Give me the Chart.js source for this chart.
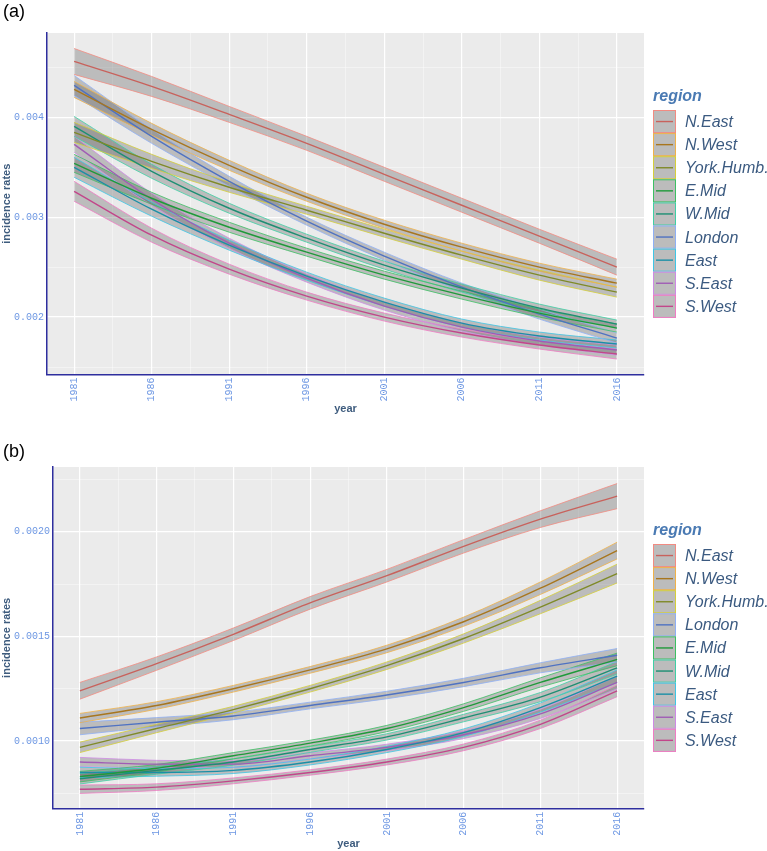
<!DOCTYPE html>
<html>
<head>
<meta charset="utf-8">
<script src="https://cdn.jsdelivr.net/npm/chart.js@4.4.1/dist/chart.umd.min.js"></script>
<style>
  body { margin: 0; background: #fff; width: 767px; height: 851px; position: relative; overflow: hidden; }
  .panel { position: absolute; left: 0; }
  .tag { position: absolute; left: 3px; font: 18px "Liberation Sans", Arial, sans-serif; color: #000; line-height: 18px; }
</style>
</head>
<body>
<div class="panel" style="top:0"><canvas id="chartA" width="767" height="420"></canvas></div>
<div class="panel" style="top:420px"><canvas id="chartB" width="767" height="431"></canvas></div>
<div class="tag" style="top:2px">(a)</div>
<div class="tag" style="top:442px">(b)</div>
<script>
// years of the fitted curves and the labelled ticks
const years = [1981, 1986, 1991, 1996, 2001, 2006, 2011, 2016];
const yearLabels = ['1981', '1986', '1991', '1996', '2001', '2006', '2011', '2016'];

// legend order in each panel
const regionsA = ['N.East', 'N.West', 'York.Humb.', 'E.Mid', 'W.Mid', 'London', 'East', 'S.East', 'S.West'];
const regionsB = ['N.East', 'N.West', 'York.Humb.', 'London', 'E.Mid', 'W.Mid', 'East', 'S.East', 'S.West'];

// panel (a): fitted incidence rates
const aNEast  = [0.00456, 0.00431, 0.00403, 0.00374, 0.00343, 0.00312, 0.00281, 0.00250];
const aNWest  = [0.00428, 0.00388, 0.00352, 0.00320, 0.00293, 0.00270, 0.00250, 0.00234];
const aYork   = [0.00385, 0.00356, 0.00330, 0.00307, 0.00284, 0.00262, 0.00242, 0.00225];
const aEMid   = [0.00354, 0.00319, 0.00290, 0.00265, 0.00242, 0.00222, 0.00204, 0.00189];
const aWMid   = [0.00391, 0.00346, 0.00309, 0.00279, 0.00252, 0.00229, 0.00209, 0.00193];
const aLondon = [0.00432, 0.00381, 0.00336, 0.00296, 0.00261, 0.00230, 0.00203, 0.00179];
const aEast   = [0.00350, 0.00308, 0.00272, 0.00241, 0.00215, 0.00194, 0.00181, 0.00173];
const aSEast  = [0.00373, 0.00318, 0.00274, 0.00239, 0.00211, 0.00190, 0.00176, 0.00167];
const aSWest  = [0.00326, 0.00282, 0.00248, 0.00221, 0.00200, 0.00184, 0.00172, 0.00163];

// panel (a): half width of the confidence bands
const aNEastSe  = [0.00013, 0.00010, 0.00008, 0.00007, 0.00007, 0.00007, 0.00007, 0.00008];
const aNWestSe  = [0.00008, 0.00006, 0.00005, 0.00004, 0.00004, 0.00004, 0.00004, 0.00004];
const aYorkSe   = [0.00010, 0.00007, 0.00005, 0.00004, 0.00004, 0.00004, 0.00005, 0.00005];
const aEMidSe   = [0.00009, 0.00006, 0.00005, 0.00004, 0.00004, 0.00004, 0.00004, 0.00004];
const aWMidSe   = [0.00010, 0.00007, 0.00005, 0.00004, 0.00004, 0.00004, 0.00004, 0.00004];
const aLondonSe = [0.00010, 0.00007, 0.00005, 0.00004, 0.00004, 0.00004, 0.00005, 0.00005];
const aEastSe   = [0.00010, 0.00007, 0.00005, 0.00004, 0.00004, 0.00004, 0.00004, 0.00004];
const aSEastSe  = [0.00008, 0.00006, 0.00005, 0.00004, 0.00004, 0.00004, 0.00004, 0.00005];
const aSWestSe  = [0.00010, 0.00007, 0.00005, 0.00004, 0.00004, 0.00004, 0.00004, 0.00005];

// panel (b): fitted incidence rates
const bNEast  = [0.00124, 0.00137, 0.00151, 0.00166, 0.00179, 0.00193, 0.00206, 0.00217];
const bNWest  = [0.00111, 0.00117, 0.00125, 0.00134, 0.00144, 0.00157, 0.00173, 0.00191];
const bYork   = [0.00097, 0.00106, 0.00115, 0.00125, 0.00136, 0.00149, 0.00164, 0.00180];
const bLondon = [0.00106, 0.00109, 0.00112, 0.00117, 0.00122, 0.00128, 0.00135, 0.00141];
const bEMid   = [0.00083, 0.00087, 0.00093, 0.00099, 0.00106, 0.00116, 0.00128, 0.00139];
const bWMid   = [0.00082, 0.00086, 0.00090, 0.00096, 0.00102, 0.00111, 0.00121, 0.00135];
const bEast   = [0.00085, 0.00085, 0.00086, 0.00090, 0.00096, 0.00104, 0.00116, 0.00131];
const bSEast  = [0.00090, 0.00089, 0.00089, 0.00093, 0.00097, 0.00103, 0.00113, 0.00128];
const bSWest  = [0.00077, 0.00078, 0.00081, 0.00085, 0.00090, 0.00097, 0.00108, 0.00124];

// panel (b): half width of the confidence bands
const bNEastSe  = [0.000040, 0.000032, 0.000030, 0.000030, 0.000030, 0.000032, 0.000040, 0.000060];
const bNWestSe  = [0.000022, 0.000018, 0.000016, 0.000016, 0.000018, 0.000022, 0.000030, 0.000040];
const bYorkSe   = [0.000025, 0.000020, 0.000016, 0.000016, 0.000018, 0.000022, 0.000032, 0.000045];
const bLondonSe = [0.000030, 0.000022, 0.000018, 0.000016, 0.000018, 0.000020, 0.000024, 0.000032];
const bEMidSe   = [0.000025, 0.000018, 0.000015, 0.000014, 0.000015, 0.000018, 0.000022, 0.000030];
const bWMidSe   = [0.000025, 0.000018, 0.000015, 0.000014, 0.000015, 0.000018, 0.000022, 0.000030];
const bEastSe   = [0.000025, 0.000018, 0.000015, 0.000014, 0.000015, 0.000018, 0.000022, 0.000030];
const bSEastSe  = [0.000022, 0.000018, 0.000015, 0.000014, 0.000015, 0.000018, 0.000022, 0.000030];
const bSWestSe  = [0.000020, 0.000016, 0.000014, 0.000013, 0.000014, 0.000016, 0.000020, 0.000028];

const fitA = {'N.East': aNEast, 'N.West': aNWest, 'York.Humb.': aYork, 'E.Mid': aEMid, 'W.Mid': aWMid,
              'London': aLondon, 'East': aEast, 'S.East': aSEast, 'S.West': aSWest};
const seA = {'N.East': aNEastSe, 'N.West': aNWestSe, 'York.Humb.': aYorkSe, 'E.Mid': aEMidSe, 'W.Mid': aWMidSe,
             'London': aLondonSe, 'East': aEastSe, 'S.East': aSEastSe, 'S.West': aSWestSe};
const fitB = {'N.East': bNEast, 'N.West': bNWest, 'York.Humb.': bYork, 'London': bLondon, 'E.Mid': bEMid,
              'W.Mid': bWMid, 'East': bEast, 'S.East': bSEast, 'S.West': bSWest};
const seB = {'N.East': bNEastSe, 'N.West': bNWestSe, 'York.Humb.': bYorkSe, 'London': bLondonSe, 'E.Mid': bEMidSe,
             'W.Mid': bWMidSe, 'East': bEastSe, 'S.East': bSEastSe, 'S.West': bSWestSe};

// colours: darker line, lighter band outline
const lineColor = {
    'N.East': '#c8625c', 'N.West': '#a8761e', 'York.Humb.': '#7f8a28', 'E.Mid': '#1f9a3a', 'W.Mid': '#1d8f73',
    'London': '#4f72c2', 'East': '#1a8fa6', 'S.East': '#a05cb5', 'S.West': '#c2468a'
};
const edgeColor = {
    'N.East': '#f28b82', 'N.West': '#f0b24a', 'York.Humb.': '#d6cf3a', 'E.Mid': '#3cc063', 'W.Mid': '#3fd0a5',
    'London': '#8fb0f5', 'East': '#3fc6e6', 'S.East': '#cf8ae6', 'S.West': '#f07cc4'
};
const bandFill = 'rgba(80,80,80,0.3)';
const panelGrey = '#ebebeb';
const axisBlue = '#2e2e9e';
const tickBlue = '#6d97e3';
const titleBlue = '#3e5c7e';

function buildDatasets(regions, fit, se) {
    const lines = [];
    const bands = [];
    regions.forEach(r => {
        const mid = fit[r];
        const half = se[r];
        lines.push({
            label: r,
            data: years.map((x, i) => ({x: x, y: mid[i]})),
            borderColor: lineColor[r],
            borderWidth: 1.4,
            fill: false
        });
        bands.push({
            label: r + ' upper',
            data: years.map((x, i) => ({x: x, y: mid[i] + half[i]})),
            borderColor: edgeColor[r],
            borderWidth: 0.8,
            backgroundColor: bandFill,
            fill: '+1'
        });
        bands.push({
            label: r + ' lower',
            data: years.map((x, i) => ({x: x, y: mid[i] - half[i]})),
            borderColor: edgeColor[r],
            borderWidth: 0.8,
            fill: false
        });
    });
    return lines.concat(bands);
}

// grey panel behind the grid
const panelBg = {
    id: 'panelBg',
    beforeDraw(chart) {
        const {ctx, chartArea: a} = chart;
        ctx.save();
        ctx.fillStyle = panelGrey;
        ctx.fillRect(a.left, a.top, a.right - a.left, a.bottom - a.top);
        ctx.restore();
    }
};

// ggplot style legend with band keys
const regionLegend = {
    id: 'regionLegend',
    afterDraw(chart, args, opts) {
        const {ctx, chartArea: a} = chart;
        const x0 = a.right + 9;
        const top = a.top + 77;
        const h = 23.1;
        ctx.save();
        ctx.fillStyle = '#4a7ab3';
        ctx.font = 'italic bold 16px "Liberation Sans", Arial, sans-serif';
        ctx.textBaseline = 'middle';
        ctx.fillText('region', x0, a.top + 64);
        opts.regions.forEach((r, i) => {
            const y = top + i * h;
            ctx.fillStyle = panelGrey;
            ctx.fillRect(x0, y, 23, h);
            ctx.fillStyle = bandFill;
            ctx.fillRect(x0, y, 23, h);
            ctx.strokeStyle = edgeColor[r];
            ctx.lineWidth = 1;
            ctx.strokeRect(x0 + 0.5, y + 0.5, 22, h - 1);
            ctx.strokeStyle = lineColor[r];
            ctx.lineWidth = 1.4;
            ctx.beginPath();
            ctx.moveTo(x0 + 3, y + h / 2);
            ctx.lineTo(x0 + 20, y + h / 2);
            ctx.stroke();
            ctx.fillStyle = '#3b5a80';
            ctx.font = 'italic 16px "Liberation Sans", Arial, sans-serif';
            ctx.fillText(r, x0 + 32, y + h / 2 + 1);
        });
        ctx.restore();
    }
};

function isMultiple(v, step) {
    return Math.abs(v / step - Math.round(v / step)) < 1e-6;
}

function makeChart(id, regions, fit, se, cfg) {
    return new Chart(document.getElementById(id), {
        type: 'line',
        data: {datasets: buildDatasets(regions, fit, se)},
        options: {
            responsive: false,
            animation: false,
            layout: {padding: {top: cfg.top, right: 123, left: 0, bottom: 0}},
            elements: {
                point: {radius: 0},
                line: {cubicInterpolationMode: 'monotone'}
            },
            plugins: {
                legend: {display: false},
                tooltip: {enabled: false},
                filler: {propagate: false, drawTime: 'beforeDatasetsDraw'},
                regionLegend: {regions: regions}
            },
            scales: {
                x: {
                    type: 'linear',
                    min: 1979.25,
                    max: 2017.75,
                    afterBuildTicks(scale) {
                        const t = [];
                        for (let v = 1981; v <= 2016.01; v += 2.5) t.push({value: v});
                        scale.ticks = t;
                    },
                    afterFit(scale) { scale.height = cfg.xHeight; },
                    ticks: {
                        autoSkip: false,
                        maxRotation: 90,
                        minRotation: 90,
                        padding: 3,
                        color: tickBlue,
                        font: {family: '"Liberation Mono", monospace', size: 10},
                        callback(v) {
                            const k = yearLabels.indexOf(String(Math.round(v)));
                            return isMultiple(v - 1981, 5) && k >= 0 ? yearLabels[k] : '';
                        }
                    },
                    grid: {
                        drawTicks: false,
                        color: c => isMultiple(c.tick.value - 1981, 5) ? '#ffffff' : 'rgba(255,255,255,0.7)',
                        lineWidth: c => isMultiple(c.tick.value - 1981, 5) ? 1.2 : 0.6
                    },
                    border: {display: true, color: axisBlue, width: 1.5},
                    title: {
                        display: true,
                        text: 'year',
                        color: titleBlue,
                        font: {family: '"Liberation Sans", Arial, sans-serif', size: 11, weight: 'bold'},
                        padding: {top: 0, bottom: cfg.yearPad}
                    }
                },
                y: {
                    type: 'linear',
                    min: cfg.yMin,
                    max: cfg.yMax,
                    afterFit(scale) { scale.width = cfg.yWidth; },
                    ticks: {
                        stepSize: cfg.yStep,
                        includeBounds: false,
                        autoSkip: false,
                        padding: 3,
                        color: tickBlue,
                        font: {family: '"Liberation Mono", monospace', size: 10},
                        callback(v) { return isMultiple(v, cfg.yMajor) ? v.toFixed(cfg.digits) : ''; }
                    },
                    grid: {
                        drawTicks: false,
                        color: c => isMultiple(c.tick.value, cfg.yMajor) ? '#ffffff' : 'rgba(255,255,255,0.7)',
                        lineWidth: c => isMultiple(c.tick.value, cfg.yMajor) ? 1.2 : 0.6
                    },
                    border: {display: true, color: axisBlue, width: 1.5},
                    title: {
                        display: true,
                        text: 'incidence rates',
                        color: titleBlue,
                        font: {family: '"Liberation Sans", Arial, sans-serif', size: 11, weight: 'bold'},
                        padding: {top: 0, bottom: 0}
                    }
                }
            }
        },
        plugins: [panelBg, regionLegend]
    });
}

makeChart('chartA', regionsA, fitA, seA, {
    top: 33, xHeight: 45.5, yearPad: 4, yWidth: 47,
    yMin: 0.001425, yMax: 0.004845, yStep: 0.0005, yMajor: 0.001, digits: 3
});

makeChart('chartB', regionsB, fitB, seB, {
    top: 47, xHeight: 42.3, yearPad: 0.5, yWidth: 53,
    yMin: 0.000677, yMax: 0.002309, yStep: 0.00025, yMajor: 0.0005, digits: 4
});
</script>
</body>
</html>
